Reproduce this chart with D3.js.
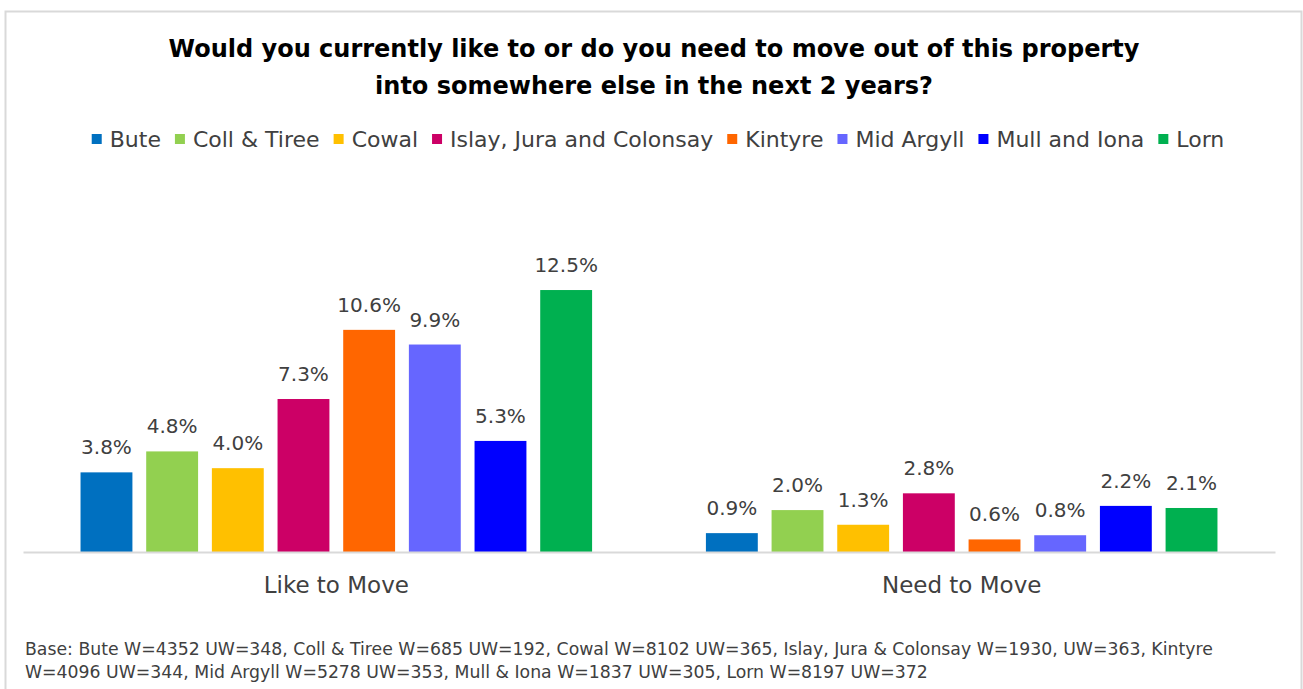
<!DOCTYPE html>
<html>
<head>
<meta charset="utf-8">
<script src="https://cdn.jsdelivr.net/npm/d3@7"></script>
<style>
  body { margin: 0; background: #fff; }
  svg { display: block; font-family: "DejaVu Sans", sans-serif; }
</style>
</head>
<body>
<div id="chart"></div>
<script>
var categories = ["Like to Move", "Need to Move"];
var regions = ["Bute", "Coll & Tiree", "Cowal", "Islay, Jura and Colonsay", "Kintyre", "Mid Argyll", "Mull and Iona", "Lorn"];
var likeToMove = [3.8, 4.8, 4.0, 7.3, 10.6, 9.9, 5.3, 12.5];
var needToMove = [0.9, 2.0, 1.3, 2.8, 0.6, 0.8, 2.2, 2.1];
var colours = ["#0070C0", "#92D050", "#FFC000", "#CC0066", "#FF6600", "#6666FF", "#0000FF", "#00B050"];
var titleLines = ["Would you currently like to or do you need to move out of this property",
                  "into somewhere else in the next 2 years?"];
var baseNote = ["Base: Bute W=4352 UW=348, Coll & Tiree W=685 UW=192, Cowal W=8102 UW=365, Islay, Jura & Colonsay W=1930, UW=363, Kintyre",
                "W=4096 UW=344, Mid Argyll W=5278 UW=353, Mull & Iona W=1837 UW=305, Lorn W=8197 UW=372"];

var width = 1303,
    height = 689;

var data = categories.map(function(c, i) {
  var vals = i == 0 ? likeToMove : needToMove;
  return { cat: c, values: regions.map(function(r, j) { return { region: r, value: vals[j] }; }) };
});

var svg = d3.select("#chart").append("svg")
    .attr("width", width)
    .attr("height", height);

// frame
svg.append("rect")
    .attr("x", 5.5).attr("y", 11.5)
    .attr("width", 1296).attr("height", 700)
    .attr("fill", "none")
    .attr("stroke", "#d9d9d9")
    .attr("stroke-width", 2);

// title
svg.append("text")
    .attr("x", 654).attr("y", 57)
    .attr("text-anchor", "middle")
    .style("font-size", "24px")
    .style("font-weight", "bold")
    .attr("fill", "#000")
    .selectAll("tspan")
    .data(titleLines)
  .enter().append("tspan")
    .attr("x", 654)
    .attr("dy", function(d, i) { return i == 0 ? 0 : 37; })
    .text(function(d) { return d; });

// legend
var legend = svg.append("g").attr("class", "legend");
var lx = 0;
regions.forEach(function(r, i) {
  var item = legend.append("g").attr("transform", "translate(" + lx + ",0)");
  item.append("rect")
      .attr("x", 0).attr("y", -5)
      .attr("width", 10).attr("height", 10)
      .attr("fill", colours[i]);
  var t = item.append("text")
      .attr("x", 18).attr("y", 8)
      .style("font-size", "22px")
      .attr("fill", "#404040")
      .text(r);
  lx += 18 + t.node().getComputedTextLength() + 14;
});
lx -= 14;
legend.attr("transform", "translate(" + (658 - lx / 2) + ",139)");

// scales
var x0 = d3.scaleBand()
    .domain(categories)
    .range([23, 1275])
    .paddingInner(0.182)
    .paddingOuter(0.092);

var x1 = d3.scaleBand()
    .domain(regions)
    .range([0, x0.bandwidth()])
    .paddingInner(0.21);

var y = d3.scaleLinear()
    .domain([0, 14])
    .range([552, 258.6]);

var color = d3.scaleOrdinal().domain(regions).range(colours);

var groups = svg.selectAll(".grp")
    .data(data)
  .enter().append("g")
    .attr("class", "grp")
    .attr("transform", function(d) { return "translate(" + x0(d.cat) + ",0)"; });

groups.selectAll("rect")
    .data(function(d) { return d.values; })
  .enter().append("rect")
    .attr("x", function(d) { return x1(d.region); })
    .attr("y", function(d) { return y(d.value); })
    .attr("width", x1.bandwidth())
    .attr("height", function(d) { return y(0) - y(d.value); })
    .attr("fill", function(d) { return color(d.region); });

groups.selectAll(".lbl")
    .data(function(d) { return d.values; })
  .enter().append("text")
    .attr("class", "lbl")
    .attr("x", function(d) { return x1(d.region) + x1.bandwidth() / 2; })
    .attr("y", function(d) { return y(d.value) - 18; })
    .attr("text-anchor", "middle")
    .style("font-size", "20px")
    .attr("fill", "#404040")
    .text(function(d) { return d.value.toFixed(1) + "%"; });

// x axis
var xAxis = svg.append("g")
    .attr("transform", "translate(0,552)")
    .call(d3.axisBottom(x0).tickSize(0).tickPadding(25).tickSizeOuter(0));
xAxis.select(".domain")
    .attr("stroke", "#d9d9d9")
    .attr("stroke-width", 2);
xAxis.selectAll("text")
    .style("font-size", "23px")
    .style("font-family", "'DejaVu Sans', sans-serif")
    .attr("fill", "#404040");

// base note
svg.append("text")
    .attr("x", 25).attr("y", 655)
    .style("font-size", "17.3px")
    .attr("fill", "#404040")
    .selectAll("tspan")
    .data(baseNote)
  .enter().append("tspan")
    .attr("x", 25)
    .attr("dy", function(d, i) { return i == 0 ? 0 : 23; })
    .text(function(d) { return d; });
</script>
</body>
</html>
